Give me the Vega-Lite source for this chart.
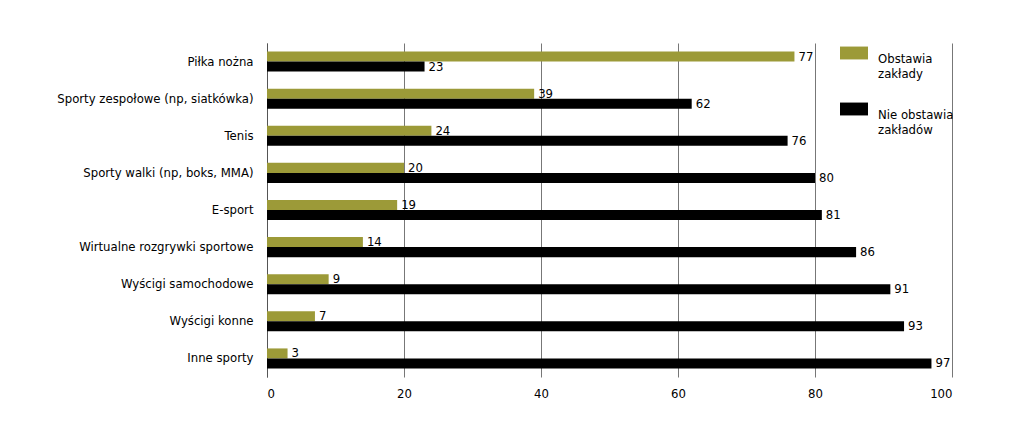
{
  "$schema": "https://vega.github.io/schema/vega-lite/v6.json",
  "autosize": "none",
  "padding": {"left": 267, "top": 43, "right": 72, "bottom": 48},
  "width": 685,
  "height": 334,
  "background": "white",
  "config": {
    "view": {"stroke": null},
    "font": "DejaVu Sans Condensed, Roboto, sans-serif",
    "axis": {"labelFont": "DejaVu Sans Condensed, Roboto, sans-serif", "labelFontSize": 13, "labelColor": "#000"},
    "legend": {"labelFont": "DejaVu Sans Condensed, Roboto, sans-serif", "labelFontSize": 13, "labelColor": "#000"}
  },
  "data": {
    "values": [
      {"sport": "Piłka nożna", "grupa": "Obstawia zakłady", "v": 77},
      {"sport": "Piłka nożna", "grupa": "Nie obstawia zakładów", "v": 23},
      {"sport": "Sporty zespołowe (np, siatkówka)", "grupa": "Obstawia zakłady", "v": 39},
      {"sport": "Sporty zespołowe (np, siatkówka)", "grupa": "Nie obstawia zakładów", "v": 62},
      {"sport": "Tenis", "grupa": "Obstawia zakłady", "v": 24},
      {"sport": "Tenis", "grupa": "Nie obstawia zakładów", "v": 76},
      {"sport": "Sporty walki  (np, boks, MMA)", "grupa": "Obstawia zakłady", "v": 20},
      {"sport": "Sporty walki  (np, boks, MMA)", "grupa": "Nie obstawia zakładów", "v": 80},
      {"sport": "E-sport", "grupa": "Obstawia zakłady", "v": 19},
      {"sport": "E-sport", "grupa": "Nie obstawia zakładów", "v": 81},
      {"sport": "Wirtualne rozgrywki sportowe", "grupa": "Obstawia zakłady", "v": 14},
      {"sport": "Wirtualne rozgrywki sportowe", "grupa": "Nie obstawia zakładów", "v": 86},
      {"sport": "Wyścigi samochodowe", "grupa": "Obstawia zakłady", "v": 9},
      {"sport": "Wyścigi samochodowe", "grupa": "Nie obstawia zakładów", "v": 91},
      {"sport": "Wyścigi konne", "grupa": "Obstawia zakłady", "v": 7},
      {"sport": "Wyścigi konne", "grupa": "Nie obstawia zakładów", "v": 93},
      {"sport": "Inne sporty", "grupa": "Obstawia zakłady", "v": 3},
      {"sport": "Inne sporty", "grupa": "Nie obstawia zakładów", "v": 97}
    ]
  },
  "encoding": {
    "y": {
      "field": "sport", "type": "nominal", "sort": null, "title": null,
      "scale": {"paddingInner": 0.46, "paddingOuter": 0.23},
      "axis": {"ticks": false, "domainColor": "#555", "domainWidth": 1, "labelPadding": 14, "labelLimit": 300}
    },
    "yOffset": {
      "field": "grupa", "type": "nominal",
      "sort": ["Obstawia zakłady", "Nie obstawia zakładów"],
      "scale": {"paddingInner": 0, "paddingOuter": 0}
    },
    "x": {
      "field": "v", "type": "quantitative", "title": null,
      "scale": {"domain": [0, 100], "nice": false},
      "axis": {"values": [0, 20, 40, 60, 80, 100], "domain": false, "ticks": false, "grid": true, "gridColor": "#777", "gridWidth": 1, "labelPadding": 10}
    }
  },
  "layer": [
    {
      "mark": {"type": "bar", "stroke": null},
      "encoding": {
        "color": {
          "field": "grupa", "type": "nominal", "title": null,
          "scale": {"domain": ["Obstawia zakłady", "Nie obstawia zakładów"], "range": ["#9c9a38", "#000000"]},
          "legend": {
            "orient": "none", "legendX": 573, "legendY": -4,
            "symbolType": "M-1,-0.46H1V0.46H-1Z", "symbolSize": 784, "symbolStrokeWidth": 0,
            "labelOffset": 10, "labelBaseline": "top", "rowPadding": 14,
            "labelExpr": "datum.label == 'Obstawia zakłady' ? ['Obstawia', 'zakłady'] : ['Nie obstawia', 'zakładów']"
          }
        }
      }
    },
    {
      "mark": {"type": "text", "align": "left", "baseline": "middle", "dx": 4, "fontSize": 13, "color": "#000"},
      "encoding": {"text": {"field": "v", "type": "quantitative"}}
    }
  ]
}
